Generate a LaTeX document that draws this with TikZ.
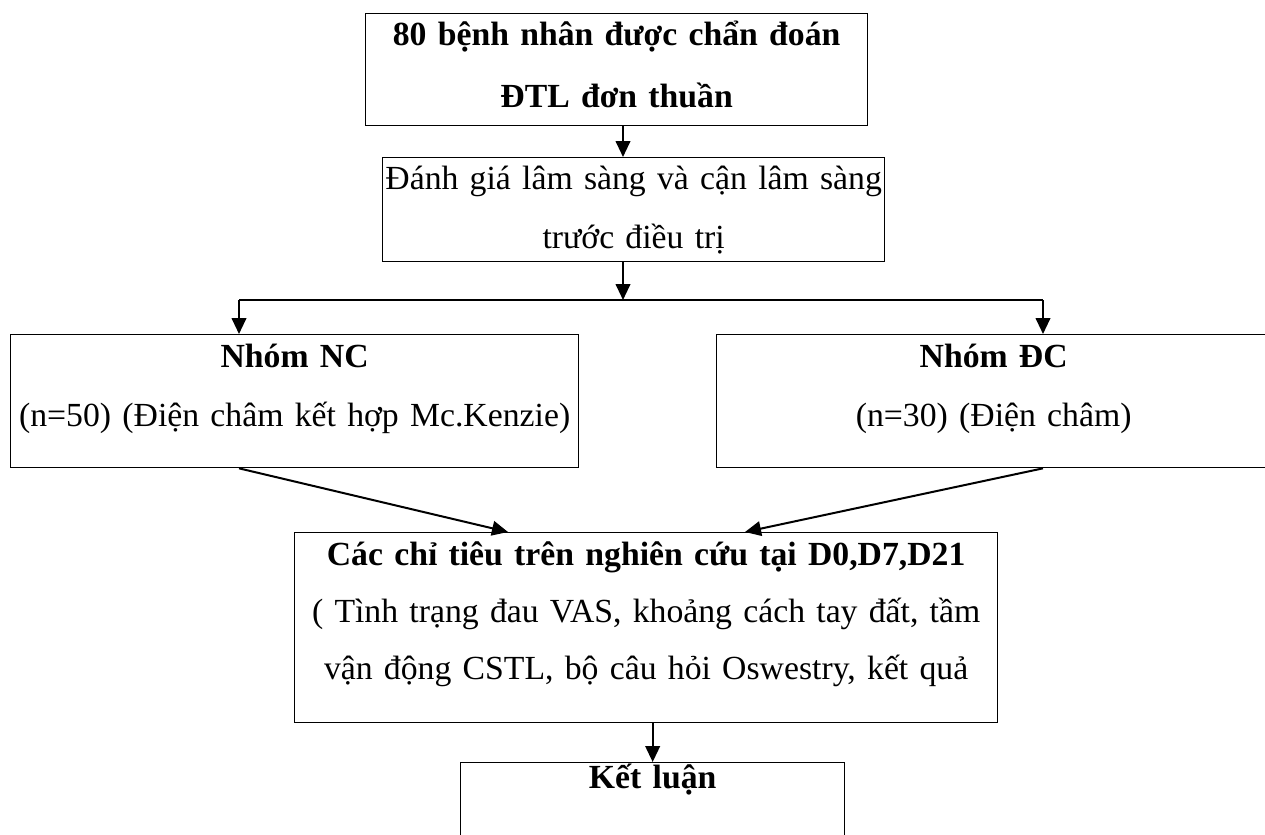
\documentclass[tikz,border=0pt]{standalone}
\usepackage{fontspec}
\setmainfont{Liberation Serif}
\usetikzlibrary{arrows.meta}

\tikzset{
  box/.style={draw, line width=1pt, inner sep=0pt, align=center, font=\fontsize{25.3}{44}\selectfont},
  link/.style={line width=1.5pt, -{Triangle[length=12pt,width=11pt]}}
}

\begin{document}
\begin{tikzpicture}[x=0.75pt,y=0.75pt,yscale=-1,xscale=1]
\useasboundingbox (0,0) rectangle (1265,835);

%Shape: Rectangle [start]
\draw (365,13) node [anchor=north west][box, text width=376.5pt, text height=24pt, text depth=60pt, font=\fontsize{25.3}{46.5}\selectfont\bfseries] (start) {80 bệnh nhân được chẩn đoán\\ĐTL đơn thuần};
%Shape: Rectangle [eval]
\draw (382,157) node [anchor=north west][box, text width=376.5pt, text height=24pt, text depth=54pt] (eval) {Đánh giá lâm sàng và cận lâm sàng\\trước điều trị};
%Shape: Rectangle [nc]
\draw (10,334) node [anchor=north west][box, text width=426pt, text height=24.75pt, text depth=75pt] (nc) {\textbf{Nhóm NC}\\(n=50) (Điện châm kết hợp Mc.Kenzie)};
%Shape: Rectangle [dc]
\draw (716,334) node [anchor=north west][box, text width=415.5pt, text height=24.75pt, text depth=75pt] (dc) {\textbf{Nhóm ĐC}\\(n=30) (Điện châm)};
%Shape: Rectangle [res]
\draw (294,532) node [anchor=north west][box, text width=527.25pt, text height=24.75pt, text depth=117.75pt, font=\fontsize{25.3}{42.5}\selectfont] (res) {\textbf{Các chỉ tiêu trên nghiên cứu tại D0,D7,D21}\\ ( Tình trạng đau VAS, khoảng cách tay đất, tầm\\vận động CSTL, bộ câu hỏi Oswestry, kết quả};
%Shape: Rectangle [concl]
\draw (460,762) node [anchor=north west][box, text width=288pt, text height=19.5pt, text depth=75pt] (concl) {\textbf{Kết luận}};

%Straight Lines
\coordinate (split) at (623,300);
\coordinate (nc-in) at (239,300);
\coordinate (dc-in) at (1043,300);
\draw [link] (start.south -| split) -- (eval.north -| split);
\draw [link] (eval.south -| split) -- (split);
\draw [line width=1.5pt] (nc-in) -- (dc-in);
\draw [link] (nc-in) -- (nc-in |- nc.north);
\draw [link] (dc-in) -- (dc-in |- dc.north);
\draw [link] (nc.south -| nc-in) -- ([xshift=160.5pt]res.north west);
\draw [link] (dc.south -| dc-in) -- ([xshift=338.25pt]res.north west);
\draw [link] (res.south -| concl.north) -- (concl.north);

\end{tikzpicture}
\end{document}
